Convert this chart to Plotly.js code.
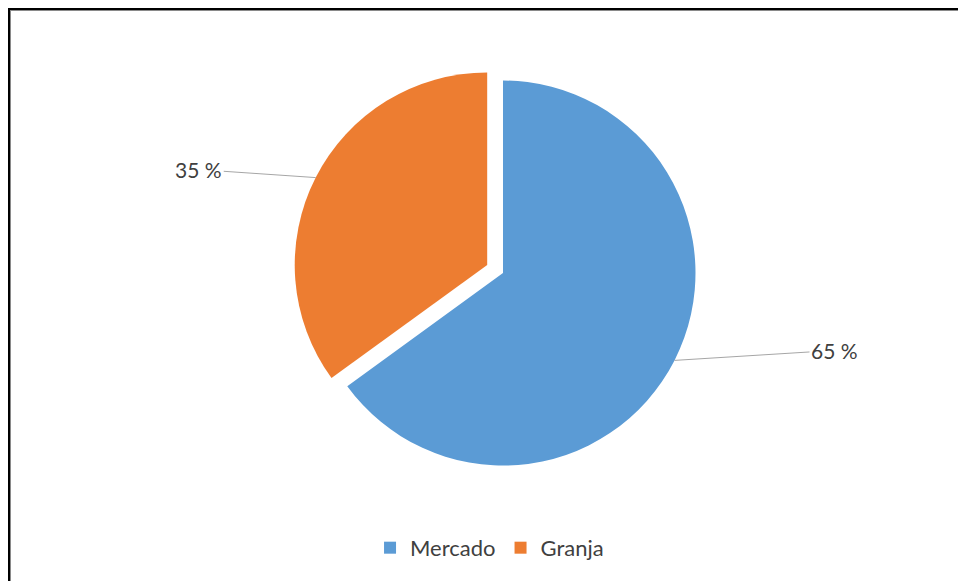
<!DOCTYPE html>
<html>
<head>
<meta charset="utf-8">
<script src="https://cdn.plot.ly/plotly-3.0.1.min.js"></script>
<style>
html,body{margin:0;padding:0;background:#fff;}
#chart{width:958px;height:581px;}
</style>
</head>
<body>
<div id="chart"></div>
<script>
const categories = ["Mercado", "Granja"];
const values = [65, 35];
const pulls = [0, 0.092];
const colors = ["#5B9BD5", "#ED7D31"];

const W = 958, H = 581;
const domX = [0.3056, 0.7445];
const domY = [0.1683, 0.8919];

// geometry mirroring Plotly's pie scaling, used only to anchor label leader lines
const boxW = W * (domX[1] - domX[0]);
const boxH = H * (domY[1] - domY[0]);
const maxPull = Math.max(...pulls);
const r = Math.min(boxW, boxH) / (2 + 2 * maxPull);
const cx = W * (domX[0] + domX[1]) / 2;
const cy = H * (1 - domY[0]) - boxH / 2;

const total = values.reduce((a, b) => a + b, 0);
const labelOffsets = [[160, -10], [-117, -8]];
const annotations = [];
let cum = 0;
values.forEach((v, i) => {
  const mid = (cum + v / 2) / total * 2 * Math.PI; // clockwise from top
  cum += v;
  const dx = Math.sin(mid), dy = -Math.cos(mid);
  const rr = r * (1 + pulls[i]);
  const px = cx + rr * dx, py = cy + rr * dy;
  annotations.push({
    x: px / W, y: 1 - py / H, xref: "paper", yref: "paper",
    text: v + " %", showarrow: true, arrowhead: 0, arrowwidth: 1,
    arrowcolor: "#A6A6A6", standoff: 0,
    ax: labelOffsets[i][0], ay: labelOffsets[i][1],
    font: {family: "Lato, 'Open Sans', sans-serif", size: 21, color: "#404040"}
  });
});

const data = [{
  type: "pie",
  labels: categories,
  values: values,
  pull: pulls,
  sort: false,
  direction: "clockwise",
  rotation: 0,
  textinfo: "none",
  hoverinfo: "label+percent",
  marker: {colors: colors, line: {width: 0}},
  domain: {x: domX, y: domY}
}];

const layout = {
  width: W, height: H,
  margin: {l: 0, r: 0, t: 0, b: 0},
  paper_bgcolor: "#ffffff",
  showlegend: true,
  legend: {
    orientation: "h", x: 0.511, xanchor: "center", y: 0.057, yanchor: "middle",
    font: {family: "Lato, 'Open Sans', sans-serif", size: 22, color: "#404040"},
    itemwidth: 30
  },
  annotations: annotations,
  shapes: [
    {type: "line", xref: "paper", yref: "paper", x0: 8 / W, x1: 1.01, y0: 1 - 9 / H, y1: 1 - 9 / H, line: {color: "#000000", width: 2}},
    {type: "line", xref: "paper", yref: "paper", x0: 9 / W, x1: 9 / W, y0: 1 - 8 / H, y1: -0.01, line: {color: "#000000", width: 2}},
    {type: "line", xref: "paper", yref: "paper", x0: 10 / W, x1: 1.01, y0: 1 - 10.5 / H, y1: 1 - 10.5 / H, line: {color: "#8a8a8a", width: 1}},
    {type: "line", xref: "paper", yref: "paper", x0: 10.5 / W, x1: 10.5 / W, y0: 1 - 10 / H, y1: -0.01, line: {color: "#8a8a8a", width: 1}}
  ]
};

Plotly.newPlot("chart", data, layout, {displayModeBar: false});
</script>
</body>
</html>
